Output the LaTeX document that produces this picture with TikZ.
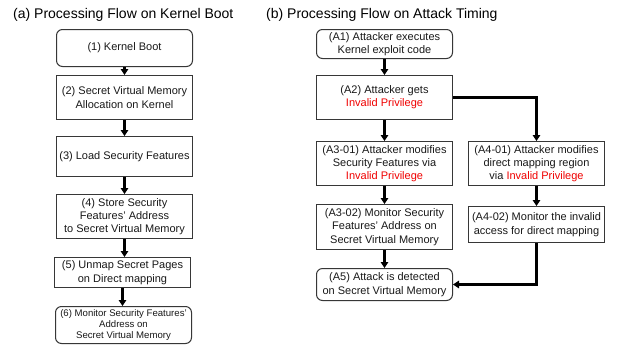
\documentclass[tikz,border=0pt]{standalone}
\usepackage{fontspec}
\setmainfont{Liberation Sans}
\usetikzlibrary{arrows.meta}
\definecolor{inv}{RGB}{240,0,0}
\definecolor{edge}{RGB}{55,55,55}
\tikzset{
  box/.style={draw=edge, line width=1pt, align=center, inner sep=1pt,
    font=\fontsize{11}{13.3}\selectfont, text=black!90},
  rbox/.style={box, rounded corners=6pt},
  flow/.style={line width=3pt, -{Triangle[width=7.5pt,length=6pt]}},
  ttl/.style={anchor=west, font=\fontsize{14}{16}\selectfont, inner sep=0pt}
}
\newcommand{\inv}[1]{\textcolor{inv}{#1}}
\begin{document}
\begin{tikzpicture}[x=1pt,y=-1pt]
\useasboundingbox (0,0) rectangle (618,346);
\fill[white] (0,0) rectangle (618,346);
% titles
\node[ttl] (ta) at (13,14.5) {(a) Processing Flow on Kernel Boot};
\node[ttl] (tb) at (266,14.5) {(b) Processing Flow on Attack Timing};
% left column
\node[rbox, minimum width=136pt, minimum height=37pt] (b1) at (124.5,48) {(1) Kernel Boot};
\node[box, minimum width=136pt, minimum height=44pt] (b2) at (124.5,97.5) {(2) Secret Virtual Memory\\Allocation on Kernel};
\node[box, minimum width=136pt, minimum height=40pt] (b3) at (124.5,156.5) {(3) Load Security Features};
\node[box, minimum width=136pt, minimum height=44pt] (b4) at (124.5,216.5) {(4) Store Security\\Features' Address\\to Secret Virtual Memory};
\node[box, minimum width=136pt, minimum height=30pt] (b5) at (122.5,272.5) {(5) Unmap Secret Pages\\on Direct mapping};
\node[rbox, minimum width=136pt, minimum height=37pt, font=\fontsize{9.6}{10.7}\selectfont] (b6) at (123.5,325) {(6) Monitor Security Features'\\Address on\\Secret Virtual Memory};
\draw[flow] (b1.south) -- (b1.south |- b2.north);
\draw[flow] (b2.south) -- (b2.south |- b3.north);
\draw[flow] (b3.south) -- (b3.south |- b4.north);
\draw[flow] (b4.south) -- (b4.south |- b5.north);
\draw[flow] (b5.south) -- (b5.south |- b6.north);
% right column
\node[rbox, minimum width=136pt, minimum height=29pt] (a1) at (384.5,44) {(A1) Attacker executes\\Kernel exploit code};
\node[box, minimum width=136pt, minimum height=44pt] (a2) at (384.5,97.5) {(A2) Attacker gets\\\inv{Invalid Privilege}};
\node[box, minimum width=136pt, minimum height=44pt] (a31) at (384.5,163.5) {(A3-01) Attacker modifies\\Security Features via\\\inv{Invalid Privilege}};
\node[box, minimum width=136pt, minimum height=44pt] (a41) at (536.5,163.5) {(A4-01) Attacker modifies\\direct mapping region\\via \inv{Invalid Privilege}};
\node[box, minimum width=136pt, minimum height=45pt] (a32) at (384.5,227) {(A3-02) Monitor Security\\Features' Address on\\Secret Virtual Memory};
\node[box, minimum width=136pt, minimum height=36pt] (a42) at (536.5,224.5) {(A4-02) Monitor the invalid\\access for direct mapping};
\node[rbox, minimum width=136pt, minimum height=32pt] (a5) at (384.5,284.5) {(A5) Attack is detected\\on Secret Virtual Memory};
\draw[flow] (a1.south) -- (a2.north);
\draw[flow] (a2.south) -- (a31.north);
\draw[flow] (a31.south) -- (a32.north);
\draw[flow] (a32.south) -- (a5.north);
\draw[flow] (a2.east) -| (a41.north);
\draw[flow] (a41.south) -- (a42.north);
\draw[flow] (a42.south) |- (a5.east);
\end{tikzpicture}
\end{document}
